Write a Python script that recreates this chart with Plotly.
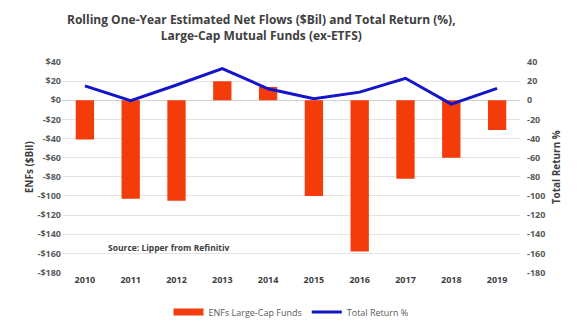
import plotly.graph_objects as go

years = ["2010", "2011", "2012", "2013", "2014", "2015", "2016", "2017", "2018", "2019"]
net_flows = [-41, -103, -105, 20, 14, -100, -158, -82, -60, -31]
total_return = [15, -0.5, 16, 33, 12, 1.5, 8.5, 23, -4, 12.5]

left_ticks = [40, 20, 0, -20, -40, -60, -80, -100, -120, -140, -160, -180]
left_labels = [("-$" if v < 0 else "$") + str(abs(v)) for v in left_ticks]
right_labels = [str(v) for v in left_ticks]

bar_color = "#F43C0A"
line_color = "#1414C8"
font_family = "Open Sans, Liberation Sans, sans-serif"
tick_font = dict(family=font_family, size=9, color="#595959", weight="bold")

fig = go.Figure()
fig.add_trace(go.Bar(
    x=years, y=net_flows, name="ENFs Large-Cap Funds",
    marker=dict(color=bar_color, line=dict(width=0)),
    yaxis="y", showlegend=False,
))
fig.add_trace(go.Scatter(
    x=years, y=total_return, name="Total Return %",
    mode="lines", line=dict(color=line_color, width=3),
    yaxis="y2", showlegend=False,
))
# legend keys: a wide swatch for the bars and a thin line for the return series
fig.add_trace(go.Scatter(
    x=[None], y=[None], name="ENFs Large-Cap Funds", mode="lines",
    line=dict(color=bar_color, width=7),
))
fig.add_trace(go.Scatter(
    x=[None], y=[None], name="Total Return %", mode="lines",
    line=dict(color=line_color, width=3),
))

fig.update_layout(
    width=577, height=325,
    margin=dict(l=62, r=57, t=62, b=50),
    paper_bgcolor="white", plot_bgcolor="white",
    bargap=0.6,
    showlegend=True,
    legend=dict(orientation="h", x=0.5, xanchor="center",
                yref="container", y=0.04, yanchor="middle",
                font=dict(family=font_family, size=9, color="#595959"),
                traceorder="normal", itemwidth=30),
    xaxis=dict(
        type="category", tickfont=dict(family=font_family, size=9, color="#404040", weight="bold"),
        showgrid=False, showline=False, ticks="",
    ),
    yaxis=dict(
        range=[-180, 40], tickvals=left_ticks, ticktext=left_labels,
        tickfont=tick_font, showgrid=True, gridcolor="#E3E3E3", gridwidth=1,
        zeroline=True, zerolinecolor="#D0D0D0", zerolinewidth=1,
        title=dict(text="ENFs ($Bil)", font=dict(family=font_family, size=10, color="#404040", weight="bold"), standoff=2),
    ),
    yaxis2=dict(
        range=[-180, 40], tickvals=left_ticks, ticktext=right_labels,
        overlaying="y", side="right", showgrid=False, zeroline=False,
        tickfont=tick_font, ticklabelstandoff=6,
        title=dict(text="Total Return %", font=dict(family=font_family, size=10, color="#404040", weight="bold"), standoff=8),
    ),
    annotations=[
        dict(
            text="<b>Rolling One-Year Estimated Net Flows ($Bil) and Total Return (%),<br>Large-Cap Mutual Funds (ex-ETFS)</b>",
            xref="paper", yref="paper", x=0.435, y=1.0, xanchor="center", yanchor="bottom",
            yshift=16, showarrow=False,
            font=dict(family=font_family, size=12, color="#404040"),
        ),
        dict(
            text="<b>Source: Lipper from Refinitiv</b>", xref="paper", yref="y",
            x=0.095, y=-154, xanchor="left", yanchor="middle", showarrow=False,
            font=dict(family=font_family, size=8.5, color="#404040"),
        ),
    ],
)

fig.write_html("out.html")
